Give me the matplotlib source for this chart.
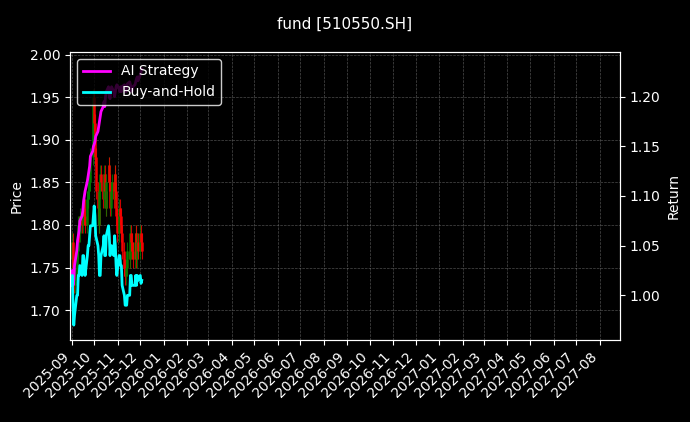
import matplotlib
matplotlib.use("Agg")
import matplotlib.pyplot as plt
import matplotlib.dates as mdates
import pandas as pd
import numpy as np

bh = [1.01,1.02,0.99,0.97,0.98,1.00,1.00,1.02,1.02,1.03,1.02,1.04,1.04,1.03,1.02,1.04,1.05,1.05,1.06,1.07,
      1.07,1.08,1.09,1.08,1.06,1.05,1.04,1.02,1.02,1.04,1.05,1.06,1.04,1.04,1.06,1.07,1.06,1.04,1.05,1.05,
      1.04,1.06,1.05,1.03,1.02,1.04,1.04,1.03,1.03,1.01,1.00,0.99,0.99,0.99,1.00,1.00,1.02,1.02,1.01,1.01,
      1.01,1.02,1.01,1.02,1.015,1.02,1.012,1.015]
ai = [1.02,1.025,1.01,1.015,1.03,1.045,1.055,1.06,1.065,1.075,1.08,1.085,1.095,1.10,1.105,1.115,1.12,1.125,1.13,1.14,
      1.145,1.15,1.152,1.155,1.16,1.165,1.17,1.175,1.18,1.185,1.19,1.195,1.19,1.20,1.205,1.21,1.20,1.198,1.205,1.21,
      1.205,1.20,1.205,1.21,1.212,1.208,1.205,1.21,1.205,1.21,1.212,1.207,1.205,1.21,1.213,1.215,1.212,1.208,1.205,1.21,
      1.212,1.215,1.218,1.22,1.216,1.222,1.225,1.228]
close = [1.76,1.78,1.75,1.73,1.74,1.77,1.79,1.80,1.79,1.81,1.80,1.82,1.83,1.81,1.80,1.83,1.84,1.85,1.86,1.88,
         1.90,1.95,1.92,1.88,1.84,1.82,1.80,1.84,1.86,1.85,1.83,1.86,1.84,1.82,1.85,1.87,1.85,1.82,1.84,1.85,
         1.83,1.86,1.84,1.81,1.79,1.82,1.81,1.80,1.79,1.77,1.75,1.74,1.75,1.76,1.77,1.76,1.79,1.78,1.77,1.76,
         1.78,1.79,1.76,1.78,1.77,1.79,1.78,1.77]

days = pd.bdate_range("2025-09-01", periods=len(bh))

plt.rcParams['font.family'] = ['DejaVu Sans']
fig = plt.figure(figsize=(6.9, 4.22), dpi=100, facecolor='black')
ax = fig.add_axes([70/690, 82/422, 550/690, 288/422], facecolor='black')
ax2 = ax.twinx()
fig.suptitle("fund [510550.SH]", color='white', fontsize=11, y=0.96)

opens = [close[0]] + close[:-1]
for d, o, c in zip(days, opens, close):
    col = 'red' if c < o else 'green'
    ax.vlines(d, min(o, c) - 0.01, max(o, c) + 0.01, color=col, linewidth=0.8, alpha=0.8)
    ax.vlines(d, min(o, c), max(o, c), color=col, linewidth=2, alpha=0.8)

ax2.plot(days, ai, color='magenta', lw=2, label='AI Strategy')
ax2.plot(days, bh, color='cyan', lw=2, label='Buy-and-Hold')

ax.set_ylim(1.665, 2.003)
ax2.set_ylim(0.955, 1.245)
ax.set_xlim(pd.Timestamp("2025-08-30"), pd.Timestamp("2027-08-28"))
ax.xaxis.set_major_locator(mdates.MonthLocator())
ax.xaxis.set_major_formatter(mdates.DateFormatter("%Y-%m"))
plt.setp(ax.get_xticklabels(), rotation=45, ha='right')
ax.set_ylabel("Price", color='white')
ax2.set_ylabel("Return", color='white')
for a in (ax, ax2):
    a.tick_params(colors='white')
    for s in a.spines.values():
        s.set_color('white')
ax.grid(True, color='gray', linestyle='--', linewidth=0.5, alpha=0.6)
leg = ax2.legend(loc='upper left', facecolor='black', edgecolor='white', labelcolor='white')
fig.savefig("out.png", dpi=100, facecolor='black')
